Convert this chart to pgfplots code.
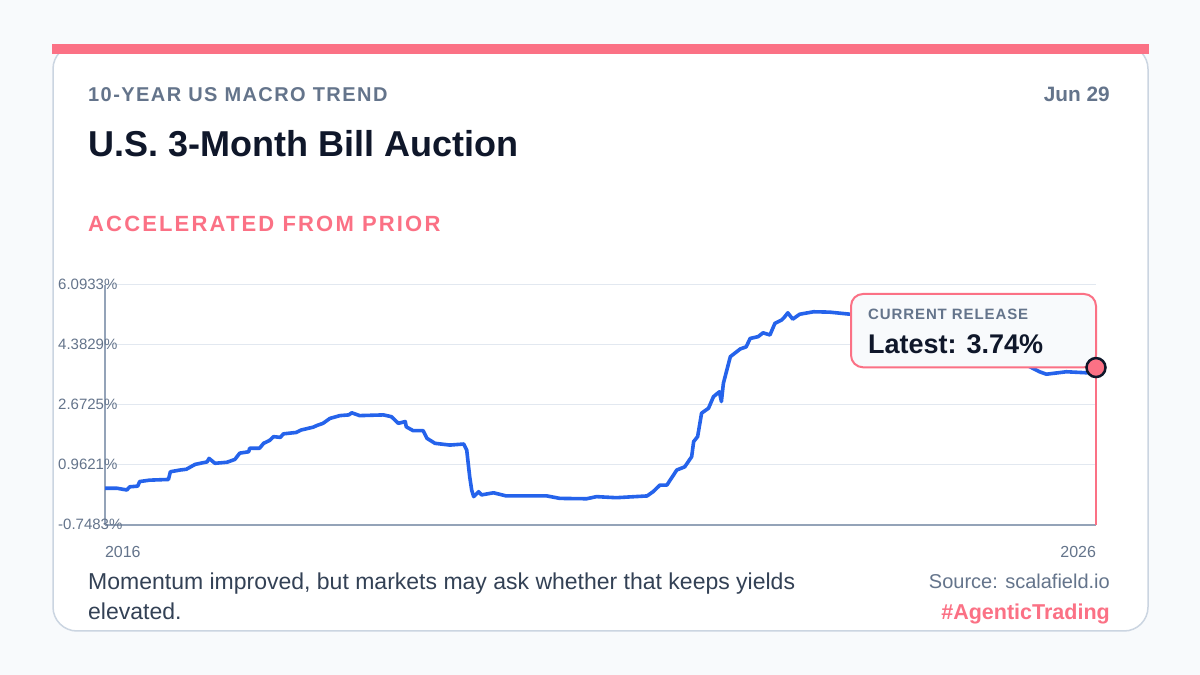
\documentclass[border=0pt]{standalone}
\usepackage{fontspec}
\setmainfont{Liberation Sans}
\usepackage{pgfplots}
\pgfplotsset{compat=1.18}
\usepackage{pgfplotstable}

\definecolor{pagebg}{HTML}{F8FAFC}
\definecolor{cardline}{HTML}{CBD5E1}
\definecolor{accent}{HTML}{FB7185}
\definecolor{linecol}{HTML}{2563EB}
\definecolor{ink}{HTML}{0F172A}
\definecolor{muted}{HTML}{64748B}
\definecolor{body}{HTML}{334155}
\definecolor{axiscol}{HTML}{94A3B8}
\definecolor{gridcol}{HTML}{E2E8F0}

\newcommand{\fs}[1]{\fontsize{#1}{#1}\selectfont}

% 3-month bill auction yield, percent, by decimal year
\pgfplotstableread{
year value
2016.50 0.30
2016.62 0.30
2016.72 0.25
2016.75 0.34
2016.83 0.36
2016.85 0.49
2016.95 0.53
2017.14 0.55
2017.16 0.77
2017.26 0.82
2017.32 0.84
2017.41 0.98
2017.53 1.05
2017.55 1.15
2017.61 1.01
2017.73 1.04
2017.81 1.12
2017.86 1.30
2017.95 1.34
2017.96 1.44
2018.06 1.44
2018.10 1.58
2018.16 1.66
2018.20 1.77
2018.27 1.75
2018.30 1.85
2018.43 1.89
2018.48 1.96
2018.60 2.04
2018.64 2.09
2018.70 2.15
2018.77 2.29
2018.87 2.37
2018.96 2.39
2018.99 2.45
2019.07 2.37
2019.31 2.39
2019.39 2.34
2019.46 2.15
2019.53 2.20
2019.54 2.05
2019.61 1.94
2019.71 1.94
2019.75 1.72
2019.83 1.58
2019.98 1.53
2020.12 1.56
2020.15 1.39
2020.18 0.63
2020.20 0.25
2020.22 0.06
2020.27 0.20
2020.30 0.11
2020.42 0.17
2020.55 0.08
2020.96 0.08
2021.09 0.01
2021.36 0.00
2021.46 0.06
2021.66 0.03
2021.97 0.08
2022.03 0.20
2022.10 0.39
2022.17 0.39
2022.27 0.82
2022.35 0.91
2022.42 1.20
2022.44 1.63
2022.48 1.77
2022.52 2.44
2022.59 2.58
2022.64 2.91
2022.70 3.05
2022.72 2.77
2022.74 3.29
2022.81 4.05
2022.91 4.27
2022.97 4.33
2023.01 4.57
2023.09 4.62
2023.14 4.73
2023.21 4.67
2023.26 5.00
2023.33 5.10
2023.36 5.19
2023.39 5.30
2023.44 5.12
2023.51 5.26
2023.65 5.33
2023.81 5.32
2024.02 5.26
2024.30 5.24
2024.60 5.20
2024.72 4.90
2024.85 4.55
2025.00 4.32
2025.30 4.30
2025.50 4.30
2025.70 4.05
2025.80 3.81
2025.93 3.62
2026.00 3.55
2026.20 3.62
2026.41 3.59
2026.50 3.74
}\billdata

\begin{document}
\begin{tikzpicture}
\begin{scope}[x=1pt,y=1pt]
  \useasboundingbox (0,0) rectangle (1200,675);
  \fill[pagebg] (0,0) rectangle (1200,675);
  % card
  \draw[cardline, line width=1.5pt, fill=white, rounded corners=24pt] (53,44) rectangle (1148,630);
  \fill[accent] (52,621) rectangle (1149,631);
  % header
  \node[anchor=base west, inner sep=0pt, text=muted, font=\fs{20}\bfseries\addfontfeatures{LetterSpace=7.2}] at (88,573) {10-YEAR US MACRO TREND};
  \node[anchor=base east, inner sep=0pt, text=muted, font=\fs{20.8}\bfseries] at (1110,573) {Jun 29};
  \node[anchor=base west, inner sep=0pt, text=ink, font=\fs{36}\bfseries] at (88,518) {U.S. 3-Month Bill Auction};
  \node[anchor=base west, inner sep=0pt, text=accent, font=\fs{22}\bfseries\addfontfeatures{LetterSpace=9.8}] at (88,443) {ACCELERATED FROM PRIOR};
  % footer
  \node[anchor=base west, inner sep=0pt, text=body, font=\fs{23}] at (88,85) {Momentum improved, but markets may ask whether that keeps yields};
  \node[anchor=base west, inner sep=0pt, text=body, font=\fs{23}] at (88,55) {elevated.};
  \node[anchor=base east, inner sep=0pt, text=muted, font=\fs{20}] at (1110,86) {Source: scalafield.io};
  \node[anchor=base east, inner sep=0pt, text=accent, font=\fs{21.5}\bfseries] at (1110,55) {\#AgenticTrading};
\end{scope}

\begin{axis}[
  at={(105pt,150pt)}, anchor=south west,
  scale only axis, width=991pt, height=240pt,
  xmin=2016.5, xmax=2026.5,
  ymin=-0.7483, ymax=6.0933,
  clip=false,
  axis x line*=bottom, axis y line*=left,
  axis line style={draw=axiscol, line width=2pt, -},
  major tick length=0pt,
  ymajorgrids,
  grid style={draw=gridcol, line width=1pt},
  ytick={-0.7483,0.9621,2.6725,4.3829,6.0933},
  yticklabels={-0.7483\%,0.9621\%,2.6725\%,4.3829\%,6.0933\%},
  yticklabel style={anchor=west, inner sep=0pt, xshift=-47pt, yshift=1pt, text=muted, font=\fs{15}},
  xtick={2016.5,2026.5},
  xticklabel={\ifnum\ticknum=0\relax\makebox[0pt][l]{2016}\else\makebox[0pt][r]{2026}\fi},
  xticklabel style={anchor=north, inner sep=0pt, yshift=-21.5pt, text=muted, font=\fs{16}},
]
  \addplot[draw=linecol, line width=3.6pt, line join=round, no marks] table[x=year, y=value] {\billdata};

  % callout for the latest release
  \draw[accent, line width=2pt, fill=pagebg, rounded corners=12pt]
    (axis cs:2024.028,3.747) rectangle (axis cs:2026.5,5.837);
  \node[anchor=base west, inner sep=0pt, text=muted, font=\fs{15}\bfseries\addfontfeatures{LetterSpace=6}]
    at (axis cs:2024.199,5.115) {CURRENT RELEASE};
  \node[anchor=base west, inner sep=0pt, text=ink, font=\fs{27}\bfseries]
    at (axis cs:2024.199,4.146) {Latest: 3.74\%};

  % drop line and latest point
  \addplot[draw=accent, line width=2pt, no marks] coordinates {(2026.5,-0.7483) (2026.5,3.74)};
  \addplot[only marks, mark=*, mark size=9.5pt, mark options={fill=accent, draw=ink, line width=2.5pt}] coordinates {(2026.5,3.74)};
\end{axis}
\end{tikzpicture}
\end{document}
